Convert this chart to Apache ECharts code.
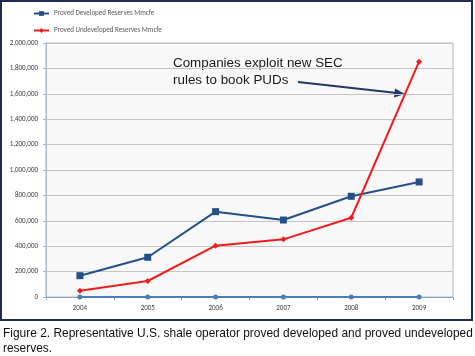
<!DOCTYPE html>
<html>
<head>
<meta charset="utf-8">
<script src="https://cdn.jsdelivr.net/npm/echarts@6/dist/echarts.min.js"></script>
<style>
html,body{margin:0;padding:0;background:#fff;}
#c{width:475px;height:356px;}
</style>
</head>
<body>
<div id="c"></div>
<script>
const years = ['2004','2005','2006','2007','2008','2009'];
const developed = [168000, 313000, 672000, 606000, 793000, 906000];
const undeveloped = [50000, 126000, 404000, 454000, 624000, 1853000];
const baseline = [0, 0, 0, 0, 0, 0];
const seriesNames = ['Proved Developed Reserves Mmcfe', 'Proved Undeveloped Reserves Mmcfe'];
const yTicks = {min: 0, max: 2000000, interval: 200000};
const annotation = 'Companies exploit new SEC\nrules to book PUDs';
const caption = 'Figure 2. Representative U.S. shale operator proved developed and proved undeveloped\nreserves.';

const chart = echarts.init(document.getElementById('c'), null, {renderer: 'canvas'});
const font = 'Calibri, "Liberation Sans", Arial, sans-serif';
chart.setOption({
  animation: false,
  backgroundColor: '#ffffff',
  textStyle: {fontFamily: font},
  legend: {
    data: seriesNames,
    orient: 'vertical',
    left: 28, top: 5,
    itemGap: 10, itemWidth: 15, itemHeight: 6,
    textStyle: {fontSize: 7, color: '#595959', fontFamily: font},
  },
  grid: {left: 46, right: 22, top: 43, bottom: 59, show: true, backgroundColor: '#f8f8f8', borderColor: '#a9b8cb', borderWidth: 1},
  xAxis: {
    type: 'category', data: years, boundaryGap: true,
    axisLine: {lineStyle: {color: '#8ea3bf'}},
    axisTick: {show: true, inside: false, length: 3, lineStyle: {color: '#8ea3bf'}},
    axisLabel: {fontSize: 7, color: '#404040', margin: 8},
    splitLine: {show: false}
  },
  yAxis: {
    type: 'value', min: yTicks.min, max: yTicks.max, interval: yTicks.interval,
    axisLine: {show: true, lineStyle: {color: '#a9b8cb'}},
    axisTick: {show: true, length: 3, lineStyle: {color: '#a9b8cb'}},
    axisLabel: {fontSize: 7, color: '#404040', margin: 8, formatter: v => v.toLocaleString('en-US')},
    splitLine: {lineStyle: {color: '#c4c4c4', width: 1}}
  },
  series: [
    {name: 'baseline', type: 'line', data: baseline, symbol: 'circle', symbolSize: 5,
     lineStyle: {color: '#4a7ebb', width: 2}, itemStyle: {color: '#4a7ebb'}, z: 3},
    {name: seriesNames[0], type: 'line', data: developed, symbol: 'rect', symbolSize: 7,
     lineStyle: {color: '#254f87', width: 2}, itemStyle: {color: '#254f87'}, z: 4},
    {name: seriesNames[1], type: 'line', data: undeveloped, symbol: 'diamond', symbolSize: 6,
     lineStyle: {color: '#ee1c1c', width: 2}, itemStyle: {color: '#ee1c1c'}, z: 5}
  ],
  graphic: [
    {type: 'rect', shape: {x: 1, y: 1, width: 471, height: 319}, silent: true, z: -1,
     style: {fill: 'none', stroke: '#1f2a5a', lineWidth: 2}},
    {type: 'text', left: 173, top: 55, silent: true,
     style: {text: annotation, font: '13.4px "Liberation Sans", Arial, sans-serif', fill: '#1a1a1a', lineHeight: 17}},
    {type: 'line', shape: {x1: 298, y1: 82, x2: 397, y2: 93}, silent: true,
     style: {stroke: '#1f3864', lineWidth: 2}},
    {type: 'polygon', shape: {points: [[405, 94], [395, 88.5], [394, 97.5]]}, silent: true,
     style: {fill: '#1f3864'}},
    {type: 'text', left: 3, top: 326, silent: true,
     style: {text: caption, font: '11.95px "Liberation Sans", Arial, sans-serif', fill: '#111', lineHeight: 15}}
  ]
});
</script>
</body>
</html>
